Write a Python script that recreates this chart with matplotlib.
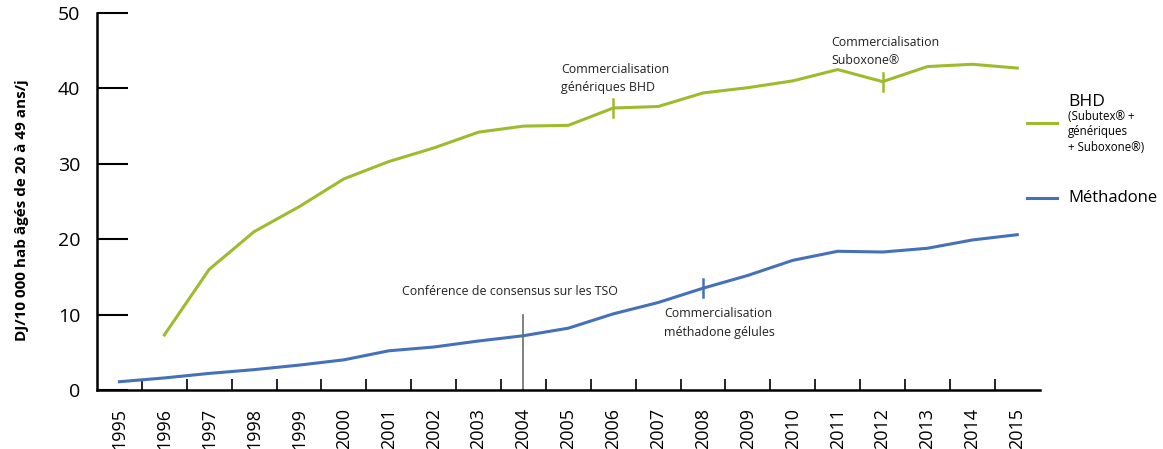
import matplotlib.pyplot as plt
from matplotlib.lines import Line2D

plt.rcParams['font.family'] = ['Open Sans', 'DejaVu Sans']

years = list(range(1995, 2016))
bhd_years = list(range(1996, 2016))
bhd = [7.3, 16.0, 21.0, 24.3, 28.0, 30.3, 32.1, 34.2, 35.0, 35.1,
       37.4, 37.6, 39.4, 40.1, 41.0, 42.5, 40.9, 42.9, 43.2, 42.7]
methadone = [1.1, 1.6, 2.2, 2.7, 3.3, 4.0, 5.2, 5.7, 6.5, 7.2, 8.2,
             10.1, 11.6, 13.5, 15.2, 17.2, 18.4, 18.3, 18.8, 19.9, 20.6]

green = "#9dbb2c"
blue = "#4471b8"

fig = plt.figure(figsize=(11.63, 4.49), dpi=100)
ax = fig.add_axes([0.0834, 0.1314, 0.8106, 0.8396])

ax.plot(bhd_years, bhd, color=green, lw=2.2)
ax.plot(years, methadone, color=blue, lw=2.2)

# event markers
def mark(year, series_years, series, color):
    v = series[series_years.index(year)]
    ax.plot([year, year], [v - 1.2, v + 1.2], color=color, lw=1.8)

mark(2006, bhd_years, bhd, green)
mark(2012, bhd_years, bhd, green)
mark(2008, years, methadone, blue)
ax.plot([2004, 2004], [0, 10], color="#6b6b6b", lw=1.2)

tk = dict(fontsize=8.9, color="#222222", va="top", ha="left", linespacing=1.55)
ax.text(2004.84, 43.4, "Commercialisation\ngénériques BHD", **tk)
ax.text(2010.85, 47.0, "Commercialisation\nSuboxone®", **tk)
ax.text(2001.3, 13.0, "Conférence de consensus sur les TSO", fontsize=8.9,
        color="#222222", va="center", ha="left")
ax.text(2007.14, 11.0, "Commercialisation\nméthadone gélules", **tk)

ax.set_xlim(1994.5, 2015.5)
ax.set_ylim(0, 50)
ax.set_xticks(years)
ax.set_xticklabels([str(y) for y in years], rotation=90, fontsize=13)
ax.set_xticks([y + 0.5 for y in years[:-1]], minor=True)
ax.tick_params(axis="x", which="major", length=0, pad=13)
ax.tick_params(axis="x", which="minor", direction="in", length=8, width=1.2)
ax.set_yticks([0, 10, 20, 30, 40, 50])
ax.tick_params(axis="y", direction="in", length=22, width=1.5, labelsize=14, pad=12)
for s in ["top", "right"]:
    ax.spines[s].set_visible(False)
ax.spines["left"].set_linewidth(1.8)
ax.spines["bottom"].set_linewidth(1.8)
ax.set_ylabel("DJ/10 000 hab âgés de 20 à 49 ans/j", fontsize=11, fontweight="bold")
ax.yaxis.set_label_coords(-0.072, 0.477)

# legend drawn by hand
fig.add_artist(Line2D([1027 / 1163, 1057 / 1163], [1 - 123 / 449] * 2, color=green, lw=2.2))
fig.add_artist(Line2D([1027 / 1163, 1057 / 1163], [1 - 198 / 449] * 2, color=blue, lw=2.2))
fig.text(1068 / 1163, 1 - 102 / 449, "BHD", fontsize=12.5, va="center", ha="left")
fig.text(1068 / 1163, 1 - 110 / 449, "(Subutex® +\ngénériques\n+ Suboxone®)",
         fontsize=8.3, va="top", ha="left", linespacing=1.25)
fig.text(1068 / 1163, 1 - 198 / 449, "Méthadone", fontsize=12, va="center", ha="left")

fig.savefig("out.png", dpi=100)
